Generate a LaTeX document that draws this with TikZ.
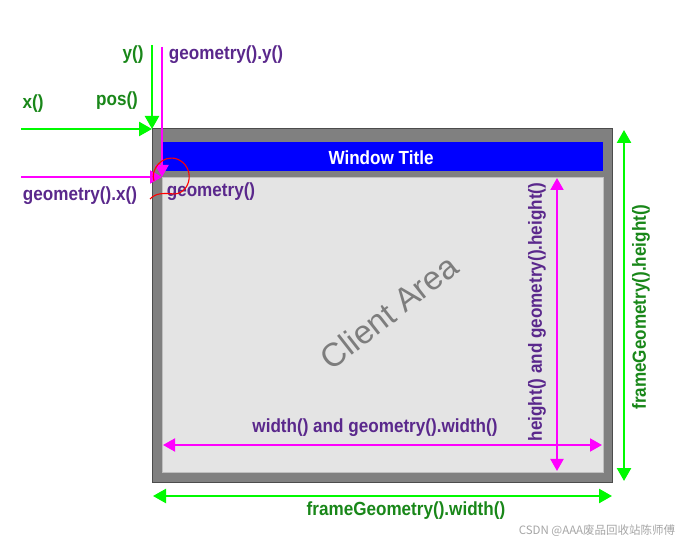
\documentclass[tikz,border=0pt]{standalone}
\usepackage{fontspec}
\setmainfont{Liberation Sans}
\newfontfamily\labfont{Liberation Sans}[FakeStretch=0.9]
\newfontfamily\cjkfont{Noto Sans CJK SC}
\usetikzlibrary{arrows.meta}
\definecolor{gArrow}{RGB}{0,250,0}
\definecolor{gText}{RGB}{25,135,25}
\definecolor{mArrow}{RGB}{255,0,255}
\definecolor{pText}{RGB}{90,40,140}
\definecolor{frameGray}{RGB}{128,128,128}
\definecolor{clientGray}{RGB}{228,228,228}
\definecolor{titleBlue}{RGB}{0,0,255}
\definecolor{areaGray}{RGB}{125,125,125}
\tikzset{
  lab/.style={font=\labfont\bfseries\fontsize{19}{21}\selectfont, inner sep=0pt},
  ptext/.style={lab, text=pText},
  gtext/.style={lab, text=gText},
  gtip/.tip={Triangle[length=13pt,width=14pt]},
  mtip/.tip={Triangle[length=12pt,width=13pt]},
  garrow/.style={draw=gArrow, line width=2.5pt, -gtip},
  gdarrow/.style={draw=gArrow, line width=2.5pt, gtip-gtip},
  marrow/.style={draw=mArrow, line width=2pt, -mtip},
  mdarrow/.style={draw=mArrow, line width=2pt, mtip-mtip},
  panel/.style={anchor=north west, inner sep=0pt, outer sep=0pt}
}
\begin{document}
\begin{tikzpicture}[x=1pt, y=-1pt]
\useasboundingbox[fill=white] (0,0) rectangle (686,545);
% window
\node[panel, fill=frameGray, draw=black!70, line width=1pt, minimum width=460pt, minimum height=353pt] (frame) at (152,129) {};
\node[panel, fill=titleBlue, minimum width=441pt, minimum height=29pt] (title) at (162,142) {};
\node[lab, text=white] (titletext) at (381,158) {Window Title};
\node[panel, fill=clientGray, draw=black!25, line width=0.6pt, minimum width=441pt, minimum height=295pt] (client) at (162,177) {};
\node[font=\fontsize{33}{36}\selectfont, text=areaGray, rotate=38, inner sep=0pt] (area) at (389,312) {Client Area};
% coordinates
\coordinate (xstart) at (21,129);
\coordinate (ystart) at (152,45);
\coordinate (gystart) at (162,47);
\coordinate (gxstart) at (21,177);
\coordinate (wl) at (163,445);
\coordinate (wr) at (602,445);
\coordinate (ht) at (557,178);
\coordinate (hb) at (557,471);
\coordinate (fht) at (624,130);
\coordinate (fhb) at (624,481);
\coordinate (fwl) at (153,496);
\coordinate (fwr) at (612,496);
% arrows
\draw[garrow] (xstart) -- (frame.north west);
\draw[garrow] (ystart) -- (frame.north west);
\draw[marrow] (gystart) -- (client.north west);
\draw[marrow] (gxstart) -- (client.north west);
\draw[mdarrow] (wl) -- (wr);
\draw[mdarrow] (ht) -- (hb);
\draw[gdarrow] (fht) -- (fhb);
\draw[gdarrow] (fwl) -- (fwr);
% labels
\node[gtext] (lx) at (33,104) {x()};
\node[gtext] (lpos) at (117,101) {pos()};
\node[gtext] (ly) at (133,55) {y()};
\node[ptext] (lgy) at (226,55) {geometry().y()};
\node[ptext] (lgx) at (80,196) {geometry().x()};
\node[ptext] (lg) at (211,192) {geometry()};
\node[ptext] (lw) at (375,428) {width() and geometry().width()};
\node[ptext, rotate=90] (lh) at (537,312) {height() and geometry().height()};
\node[gtext, rotate=90] (lfh) at (641,307) {frameGeometry().height()};
\node[gtext] (lfw) at (406,511) {frameGeometry().width()};
% red annotation
\draw[red, line width=1.1pt] (150,199) .. controls (156,193) and (162,193) .. (175,194)
  .. controls (192,192) and (195,166) .. (177,159)
  .. controls (162,154) and (150,170) .. (154,181);
% watermark
\node[font=\cjkfont\fontsize{11.5}{13}\selectfont, text=black!35, inner sep=0pt] (wm) at (597,531) {CSDN @AAA废品回收站陈师傅};
\end{tikzpicture}
\end{document}
